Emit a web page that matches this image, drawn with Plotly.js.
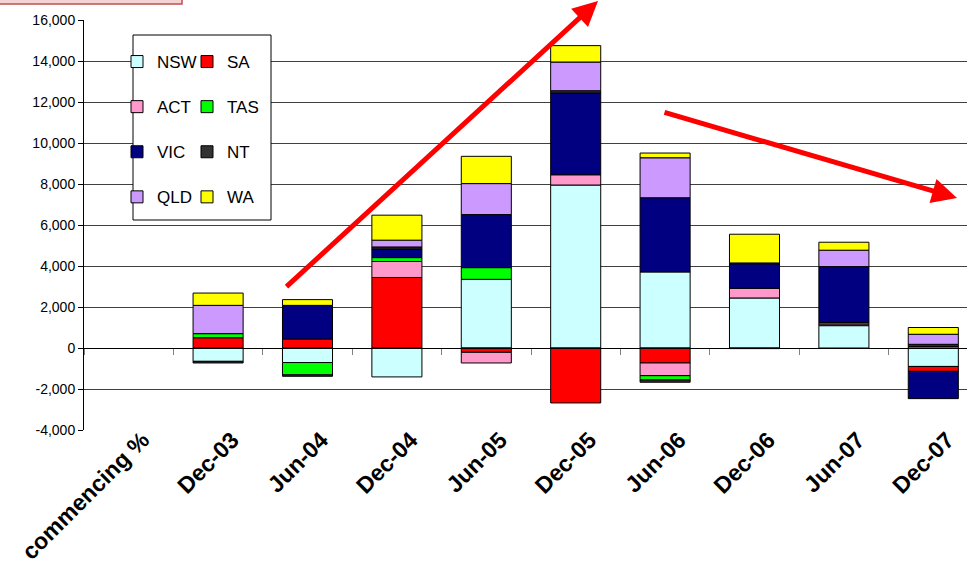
<!DOCTYPE html>
<html>
<head>
<meta charset="utf-8">
<script src="https://cdn.plot.ly/plotly-3.0.1.min.js"></script>
<style>html,body{margin:0;padding:0;background:#fff;}#chart{width:967px;height:570px;}</style>
</head>
<body>
<div id="chart"></div>
<script>
const categories = ['commencing %', 'Dec-03', 'Jun-04', 'Dec-04', 'Jun-05', 'Dec-05', 'Jun-06', 'Dec-06', 'Jun-07', 'Dec-07'];
const NSW = [null, -650, -710, -1410, 3350, 7950, 3710, 2440, 1090, -900];
const SA  = [null, 500, 440, 3440, -210, -2680, -730, -30, null, -240];
const ACT = [null, null, null, 780, -520, 500, -620, 470, 80, 80];
const TAS = [null, 200, -600, 190, 570, null, -210, null, 70, null];
const VIC = [null, null, 1640, 420, 2590, 3990, 3620, 1200, 2730, -1330];
const NT  = [null, -80, -70, 100, null, 110, -110, 40, null, 100];
const QLD = [null, 1380, null, 330, 1510, 1400, 1950, null, 800, 490];
const WA  = [null, 600, 280, 1220, 1330, 800, 230, 1400, 390, 330];
const yTickVals = [-4000, -2000, 0, 2000, 4000, 6000, 8000, 10000, 12000, 14000, 16000];
const yTickText = ['-4,000', '-2,000', '0', '2,000', '4,000', '6,000', '8,000', '10,000', '12,000', '14,000', '16,000'];

const series = [
  {name: 'NSW', y: NSW, color: '#CCFFFF', legend: 'legend'},
  {name: 'SA',  y: SA,  color: '#FF0000', legend: 'legend2'},
  {name: 'ACT', y: ACT, color: '#FF99CC', legend: 'legend'},
  {name: 'TAS', y: TAS, color: '#00FF00', legend: 'legend2'},
  {name: 'VIC', y: VIC, color: '#000080', legend: 'legend'},
  {name: 'NT',  y: NT,  color: '#333333', legend: 'legend2'},
  {name: 'QLD', y: QLD, color: '#CC99FF', legend: 'legend'},
  {name: 'WA',  y: WA,  color: '#FFFF00', legend: 'legend2'}
];

const traces = series.map(s => ({
  type: 'bar', name: s.name, x: categories, y: s.y,
  marker: {color: s.color, line: {color: '#000', width: 1}},
  legend: s.legend, legendgroup: s.name
}));
// helper axis for the zero line tick marks
traces.push({type: 'scatter', x: categories, y: categories.map(() => null), xaxis: 'x2',
  showlegend: false, hoverinfo: 'skip', mode: 'markers'});

const font = {family: 'Arial, "Liberation Sans", sans-serif', color: '#000'};
const plotL = 84, plotR = 967, plotT = 20, plotB = 430;
const W = plotR - plotL, H = plotB - plotT;
const px = x => (x - plotL) / W;
const py = y => (plotB - y) / H;

const layout = {
  width: 967, height: 570,
  margin: {l: plotL, r: 0, t: plotT, b: 570 - plotB, pad: 0},
  paper_bgcolor: '#fff', plot_bgcolor: '#fff',
  font: font,
  barmode: 'relative', bargap: 0.44,
  showlegend: true,
  xaxis: {
    type: 'category', range: [-0.5, 9.377], showgrid: false, zeroline: false,
    showline: false, ticks: '', tickangle: -45,
    ticklabelshift: 14, ticklabelstandoff: -9,
    tickfont: {family: font.family, size: 23, weight: 'bold', color: '#000'}
  },
  xaxis2: {
    type: 'category', overlaying: 'x', anchor: 'free', position: 0.2,
    range: [-0.5, 9.377], showgrid: false, zeroline: false, showline: true,
    linecolor: '#000', linewidth: 1, ticks: 'outside', tickson: 'boundaries',
    ticklen: 6, tickcolor: '#808080', showticklabels: false
  },
  yaxis: {
    range: [-4000, 16000], tickvals: yTickVals, ticktext: yTickText,
    showgrid: true, gridcolor: '#404040', gridwidth: 1,
    zeroline: true, zerolinecolor: '#000', zerolinewidth: 1,
    showline: true, linecolor: '#000', linewidth: 1,
    ticks: 'outside', ticklen: 5, tickcolor: '#000',
    tickfont: {family: font.family, size: 14, color: '#000'}
  },
  legend: {
    x: px(117), y: py(44), xanchor: 'left', yanchor: 'top',
    bgcolor: 'rgba(0,0,0,0)', borderwidth: 0, tracegroupgap: 20,
    font: {family: font.family, size: 17, color: '#000'}
  },
  legend2: {
    x: px(187), y: py(44), xanchor: 'left', yanchor: 'top',
    bgcolor: 'rgba(0,0,0,0)', borderwidth: 0, tracegroupgap: 20,
    font: {family: font.family, size: 17, color: '#000'}
  },
  shapes: [
    {type: 'rect', xref: 'paper', yref: 'paper', layer: 'above',
     x0: px(133), x1: px(271), y0: py(220), y1: py(35),
     fillcolor: '#fff', line: {color: '#000', width: 1}},
    {type: 'rect', xref: 'paper', yref: 'paper', layer: 'above',
     x0: px(-3), x1: px(182), y0: py(4), y1: py(-20),
     fillcolor: '#F6D3D3', line: {color: '#C0504D', width: 1.5}}
  ],
  annotations: [
    {xref: 'paper', yref: 'paper', x: px(598), y: py(1), text: '', showarrow: true,
     axref: 'pixel', ayref: 'pixel', ax: 285 - 598, ay: 288 - 1,
     arrowcolor: '#FF0000', arrowwidth: 5, arrowhead: 2, arrowsize: 1},
    {xref: 'paper', yref: 'paper', x: px(957), y: py(198), text: '', showarrow: true,
     axref: 'pixel', ayref: 'pixel', ax: 663 - 957, ay: 112 - 198,
     arrowcolor: '#FF0000', arrowwidth: 5, arrowhead: 2, arrowsize: 1}
  ]
};

Plotly.newPlot('chart', traces, layout, {displayModeBar: false, staticPlot: true});
</script>
</body>
</html>
